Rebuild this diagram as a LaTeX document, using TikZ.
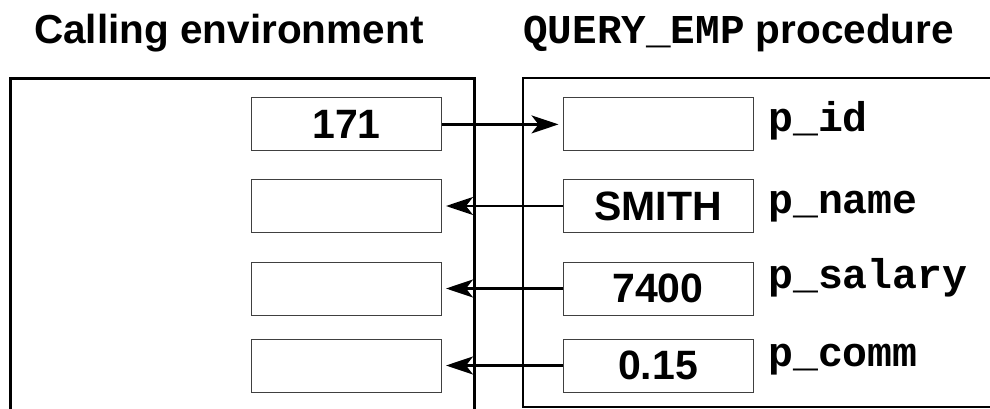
\documentclass[tikz,border=0pt]{standalone}
\usepackage{fontspec}
\setmainfont{Liberation Sans}
\setmonofont{Liberation Mono}
\usetikzlibrary{arrows.meta}

\begin{document}
\begin{tikzpicture}[x=1pt, y=1pt, >={Stealth[length=27pt,width=18pt,inset=7pt]},
    valbox/.style={draw=black!75, line width=1pt, minimum width=190pt,
        minimum height=53pt, inner sep=0pt,
        font=\fontsize{41}{43}\selectfont\bfseries},
    parname/.style={anchor=base west, inner sep=0pt,
        font=\fontsize{41.5}{43}\selectfont\ttfamily\bfseries},
    heading/.style={anchor=base west, inner sep=0pt,
        font=\fontsize{40.5}{42}\selectfont\bfseries},
    flow/.style={->, line width=2.5pt, shorten >=4pt}]
    \useasboundingbox (0,0) rectangle (990,408);
    \clip (0,0) rectangle (990,408);

    % titulos
    \node[heading] (calltitle) at (34,364) {Calling environment};
    \node[heading] (proctitle) at (523,364)
        {{\fontsize{41}{43}\selectfont\ttfamily QUERY\_EMP} procedure};

    % marcos (el izquierdo sigue por abajo, el derecho por la derecha)
    \draw[line width=3pt] (10,-10) -- (10,330) -- (474,330) -- (474,-10);
    \draw[line width=2pt] (523,1.5) rectangle (1010,330);

    % cajas y nombres de parametros
    \foreach \row/\y/\lval/\rval/\plab/\base in
        {id/283.6/171/{}/p\_id/276.3,
         name/202/{}/SMITH/p\_name/195,
         salary/119.5/{}/7400/p\_salary/120,
         comm/42.5/{}/0.15/p\_comm/42}
    {
        \node[valbox] (l\row) at (346.5,\y) {\lval};
        \node[valbox] (r\row) at (658,\y) {\rval};
        \node[parname] (p\row) at (768,\base) {\plab};
    }

    % flechas: IN hacia el procedimiento, OUT de vuelta
    \draw[flow] (lid) -- (rid);
    \foreach \row in {name,salary,comm}
        \draw[flow] (r\row) -- (l\row);
\end{tikzpicture}
\end{document}
